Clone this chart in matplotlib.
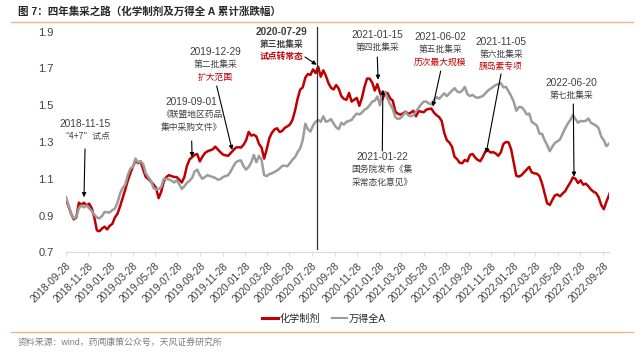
import matplotlib
matplotlib.use("Agg")
import matplotlib.pyplot as plt
import matplotlib.dates as mdates
import pandas as pd
from matplotlib.lines import Line2D

plt.rcParams['font.family'] = ['Liberation Sans', 'Noto Sans CJK SC', 'DejaVu Sans']
CJK = ['Noto Sans CJK SC', 'DejaVu Sans']

# ---------------- data ----------------
start_date = "2018-09-28"
chem = [0.99,0.95,0.91,0.88,0.89,0.97,0.96,0.97,0.955,0.965,
0.94,0.89,0.82,0.815,0.83,0.84,0.825,0.845,0.855,0.89,
0.91,0.95,0.995,1.04,1.09,1.13,1.165,1.20,1.185,1.195,
1.15,1.11,1.10,1.085,1.07,1.05,0.995,1.03,1.085,1.11,
1.12,1.115,1.11,1.11,1.095,1.08,1.11,1.17,1.205,1.218,
1.23,1.235,1.195,1.22,1.24,1.25,1.255,1.26,1.275,1.26,
1.245,1.232,1.228,1.225,1.24,1.255,1.27,1.272,1.27,1.285,
1.31,1.355,1.335,1.34,1.33,1.29,1.27,1.21,1.26,1.32,
1.35,1.368,1.375,1.355,1.36,1.377,1.385,1.395,1.42,1.47,
1.535,1.585,1.597,1.65,1.67,1.665,1.695,1.675,1.71,1.655,
1.69,1.66,1.62,1.595,1.586,1.61,1.59,1.55,1.535,1.53,
1.567,1.52,1.53,1.54,1.497,1.54,1.60,1.645,1.645,1.623,
1.58,1.615,1.57,1.532,1.57,1.565,1.537,1.525,1.465,1.454,
1.449,1.456,1.465,1.453,1.46,1.47,1.44,1.468,1.465,1.462,
1.476,1.48,1.482,1.46,1.446,1.436,1.415,1.35,1.31,1.297,
1.275,1.22,1.207,1.187,1.185,1.203,1.195,1.23,1.235,1.216,
1.203,1.196,1.22,1.25,1.255,1.243,1.245,1.238,1.225,1.245,
1.29,1.30,1.298,1.26,1.19,1.117,1.112,1.12,1.135,1.15,
1.165,1.135,1.13,1.128,1.115,1.075,1.02,0.967,0.958,0.985,
1.01,1.015,1.005,1.02,1.033,1.058,1.08,1.108,1.10,1.077,
1.092,1.068,1.074,1.06,1.042,1.03,1.023,1.0,0.958,0.935,
0.975,1.01,1.049]

wind_a = [1.0,0.955,0.91,0.885,0.893,0.94,0.955,0.945,0.955,0.94,
0.925,0.905,0.89,0.885,0.898,0.92,0.918,0.917,0.93,0.938,
0.97,1.02,1.05,1.067,1.12,1.155,1.165,1.21,1.19,1.195,
1.18,1.13,1.11,1.09,1.05,1.042,1.045,1.055,1.10,1.10,
1.097,1.09,1.08,1.092,1.07,1.045,1.06,1.078,1.09,1.105,
1.14,1.15,1.12,1.10,1.11,1.12,1.115,1.11,1.105,1.095,
1.098,1.11,1.115,1.12,1.14,1.167,1.19,1.198,1.20,1.168,
1.15,1.165,1.19,1.23,1.19,1.225,1.203,1.12,1.115,1.125,
1.13,1.137,1.145,1.156,1.17,1.172,1.168,1.185,1.204,1.218,
1.245,1.265,1.31,1.40,1.37,1.357,1.39,1.41,1.42,1.41,
1.44,1.41,1.415,1.425,1.40,1.38,1.37,1.405,1.395,1.41,
1.415,1.42,1.44,1.455,1.45,1.46,1.476,1.484,1.50,1.52,
1.525,1.548,1.50,1.575,1.57,1.535,1.505,1.48,1.435,1.425,
1.43,1.446,1.463,1.445,1.44,1.446,1.465,1.485,1.505,1.52,
1.52,1.51,1.505,1.525,1.545,1.535,1.55,1.565,1.55,1.565,
1.58,1.593,1.575,1.57,1.58,1.60,1.56,1.55,1.557,1.545,
1.54,1.545,1.55,1.565,1.58,1.59,1.60,1.61,1.615,1.62,
1.597,1.60,1.575,1.55,1.52,1.47,1.49,1.49,1.475,1.45,
1.455,1.41,1.40,1.39,1.345,1.345,1.31,1.283,1.25,1.275,
1.295,1.304,1.315,1.345,1.375,1.40,1.42,1.447,1.425,1.405,
1.415,1.413,1.415,1.428,1.405,1.397,1.39,1.375,1.33,1.31,
1.278,1.29,1.31]

series_names = ["化学制剂", "万得全A"]
tick_dates = pd.date_range("2018-09-28", "2022-09-28", freq=pd.DateOffset(months=2))
tick_labels = [d.strftime("%Y-%m-%d") for d in tick_dates]
y_ticks = [0.7, 0.9, 1.1, 1.3, 1.5, 1.7, 1.9]

# events: (label date, lines, red line, anchor date, anchor value)
events = [
    ("2018-11-15", ["“4+7”试点"], None, "2018-11-16", 1.0),
    ("2019-09-01", ["《联盟地区药品", "集中采购文件》"], None, "2019-09-06", 1.218),
    ("2019-12-29", ["第二批集采"], "扩大范围", "2019-12-24", 1.257),
    ("2020-07-29", ["第三批集采"], "试点转常态", "2020-08-10", 1.72),
    ("2021-01-15", ["第四批集采"], None, "2021-01-24", 1.639),
    ("2021-01-22", ["国务院发布《集", "采常态化意见》"], None, "2021-02-06", 1.584),
    ("2021-06-02", ["第五批集采"], "历次最大规模", "2021-06-22", 1.493),
    ("2021-11-05", ["第六批集采"], "胰岛素专项", "2021-11-14", 1.2395),
    ("2022-06-20", ["第七批集采"], None, "2022-07-11", 1.112),
]
vline_date = "2020-08-11"

dates = pd.date_range(start_date, periods=len(chem), freq="7D")

# ---------------- layout helpers ----------------
W, H = 640, 353
def fx(p): return p / W
def fy(p): return 1 - p / H

RED = "#C00000"
GRAY = "#9C9C9C"
TXT = "#404040"

fig = plt.figure(figsize=(W / 100, H / 100), dpi=100)
fig.patch.set_facecolor("white")
ax = fig.add_axes([fx(66), fy(252.4), fx(609.3) - fx(66), fy(31.7) - fy(252.4)])

ax.plot(dates, chem, color=RED, lw=1.8, solid_joinstyle="round", zorder=3)
ax.plot(dates, wind_a, color=GRAY, lw=1.8, solid_joinstyle="round", zorder=3)

ax.set_ylim(0.7, 1.9)
ax.set_xlim(pd.Timestamp("2018-09-28"), pd.Timestamp("2022-10-15"))
ax.set_yticks(y_ticks)
ax.set_yticklabels([f"{v:.1f}" for v in y_ticks])
ax.set_xticks(tick_dates)
ax.set_xticklabels(tick_labels, rotation=45, ha="right", rotation_mode="anchor")

for s in ["top", "right", "left"]:
    ax.spines[s].set_visible(False)
ax.spines["bottom"].set_color("#D9D9D9")
ax.spines["bottom"].set_linewidth(0.8)
ax.tick_params(axis="y", length=0, pad=9, labelsize=8, labelcolor="#404040")
ax.tick_params(axis="x", length=3, width=0.6, color="#D9D9D9", pad=3,
               labelsize=7.3, labelcolor="#404040")

ax.axvline(pd.Timestamp(vline_date), ymin=0.015, ymax=1.02, color="#333333",
           lw=0.9, clip_on=False, zorder=4)

# ---------------- annotations ----------------
# text positions (pixel layout) per event: (center x, date-line y, tail x, tail y)
layout = [
    (85, 124, 85, 149),
    (191.7, 102.3, 191.7, 141),
    (215, 52.3, 216.7, 86),
    (281.7, 31.7, 305, 57),
    (377.3, 35, 377.3, 57),
    (382.3, 156.7, 382.3, 151),
    (440, 36.7, 440.7, 71),
    (501, 41.7, 501, 74),
    (571.7, 83.3, 573.3, 104),
]
step = 12.6
for (lab, lines, red, adate, aval), (cx, cy, tx, ty) in zip(events, layout):
    bold = lab == "2020-07-29"
    fw = "bold" if bold else "normal"
    fig.text(fx(cx), fy(cy), lab, ha="center", va="center", fontsize=7.3,
             color=TXT, fontweight=fw)
    y = cy
    for ln in lines:
        y += step
        fig.text(fx(cx), fy(y), ln, ha="center", va="center", fontsize=6.3,
                 color=TXT, fontweight=fw, family=CJK)
    if red:
        y += step
        fig.text(fx(cx), fy(y), red, ha="center", va="center", fontsize=6.3,
                 color=RED, fontweight=fw, family=CJK)
    ax.annotate("", xy=(pd.Timestamp(adate), aval), xycoords="data",
                xytext=(fx(tx), fy(ty)), textcoords="figure fraction",
                arrowprops=dict(arrowstyle="-|>", color="black", lw=0.8,
                                mutation_scale=6, shrinkA=0, shrinkB=0),
                zorder=5)

# ---------------- legend ----------------
handles = [Line2D([0], [0], color=RED, lw=2.2), Line2D([0], [0], color=GRAY, lw=1.5)]
fig.legend(handles, series_names, loc="center", bbox_to_anchor=(fx(324), fy(318.5)),
           ncol=2, frameon=False, fontsize=7.3, handlelength=1.5, handletextpad=0.15,
           columnspacing=1.2, labelcolor="#262626")

# ---------------- title / frame / source ----------------
fig.text(fx(18), fy(11), "图 7：四年集采之路（化学制剂及万得全 A 累计涨跌幅）",
         ha="left", va="center", fontsize=7.6, color="#262626", fontweight="bold")
orange = "#F4B183"
fig.add_artist(Line2D([fx(11), fx(633)], [fy(21.5), fy(21.5)], color=orange, lw=1.0))
fig.add_artist(Line2D([fx(11), fx(633)], [fy(331.7), fy(331.7)], color=orange, lw=1.0))
fig.text(fx(18), fy(343), "资料来源：wind，药闻康策公众号，天风证券研究所",
         ha="left", va="center", fontsize=6.4, color="#7F7F7F")

fig.savefig("out.png", dpi=100, facecolor="white")
